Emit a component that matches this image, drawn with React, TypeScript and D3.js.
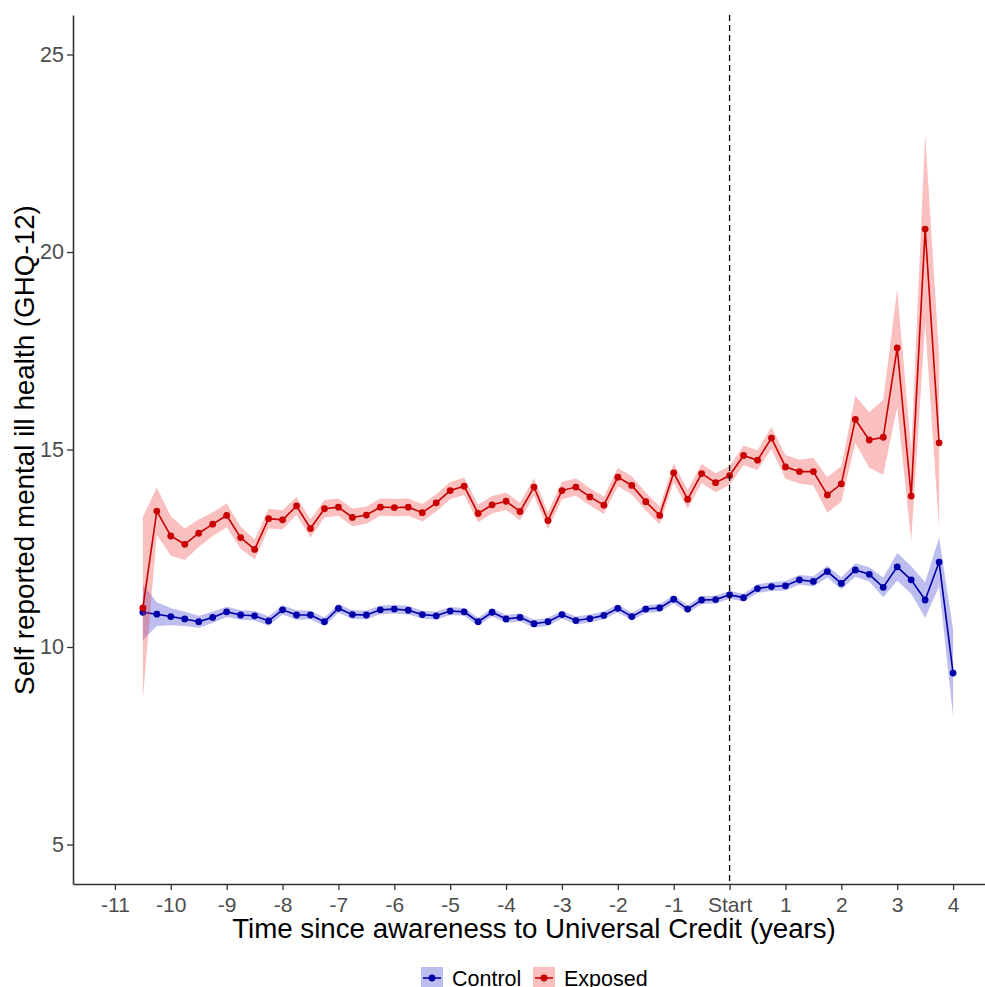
import React, { useEffect, useRef } from "react";
import * as d3 from "d3";

// quarter-year points, years relative to awareness of Universal Credit
const quarters = [
  -10.5, -10.25, -10, -9.75, -9.5, -9.25, -9, -8.75, -8.5, -8.25,
  -8, -7.75, -7.5, -7.25, -7, -6.75, -6.5, -6.25, -6, -5.75,
  -5.5, -5.25, -5, -4.75, -4.5, -4.25, -4, -3.75, -3.5, -3.25,
  -3, -2.75, -2.5, -2.25, -2, -1.75, -1.5, -1.25, -1, -0.75,
  -0.5, -0.25, 0, 0.25, 0.5, 0.75, 1, 1.25, 1.5, 1.75,
  2, 2.25, 2.5, 2.75, 3, 3.25, 3.5, 3.75, 4,
];

const exposedMean = [
  10.99, 13.44, 12.81, 12.6, 12.88, 13.11, 13.33, 12.77, 12.47, 13.25,
  13.22, 13.57, 13.0, 13.5, 13.54, 13.28, 13.34, 13.54, 13.53, 13.54,
  13.4, 13.65, 13.96, 14.07, 13.38, 13.6, 13.69, 13.43, 14.05, 13.2,
  13.96, 14.05, 13.8, 13.59, 14.3, 14.09, 13.68, 13.33, 14.41, 13.74,
  14.39, 14.16, 14.34, 14.85, 14.73, 15.29, 14.56, 14.44, 14.44, 13.85,
  14.13, 15.76, 15.24, 15.31, 17.57, 13.82, 20.58, 15.17,
];
const exposedCI = [
  2.3, 0.6, 0.5, 0.4, 0.35, 0.3, 0.3, 0.28, 0.25, 0.25,
  0.24, 0.23, 0.23, 0.22, 0.22, 0.22, 0.22, 0.22, 0.22, 0.22,
  0.22, 0.22, 0.22, 0.22, 0.22, 0.22, 0.22, 0.22, 0.22, 0.22,
  0.22, 0.22, 0.22, 0.22, 0.23, 0.23, 0.23, 0.23, 0.24, 0.24,
  0.24, 0.24, 0.24, 0.25, 0.25, 0.28, 0.3, 0.3, 0.35, 0.45,
  0.45, 0.6, 0.7, 0.95, 1.5, 1.15, 2.4, 2.2,
];

const controlMean = [
  10.88, 10.83, 10.77, 10.71, 10.64, 10.75, 10.89, 10.81, 10.79, 10.66,
  10.94, 10.81, 10.81, 10.64, 10.98, 10.82, 10.81, 10.94, 10.96, 10.93,
  10.82, 10.79, 10.91, 10.89, 10.64, 10.88, 10.71, 10.75, 10.59, 10.64,
  10.82, 10.67, 10.72, 10.8, 10.98, 10.77, 10.96, 10.99, 11.21, 10.96,
  11.19, 11.2, 11.32, 11.25, 11.48, 11.53, 11.55, 11.7, 11.66, 11.91,
  11.61, 11.95, 11.84, 11.51, 12.03, 11.7, 11.19, 12.15, 9.34,
];
const controlCI = [
  0.7, 0.3, 0.22, 0.18, 0.15, 0.14, 0.13, 0.12, 0.12, 0.12,
  0.12, 0.12, 0.11, 0.11, 0.11, 0.11, 0.11, 0.11, 0.11, 0.11,
  0.1, 0.1, 0.1, 0.1, 0.1, 0.1, 0.1, 0.1, 0.1, 0.1,
  0.1, 0.1, 0.1, 0.1, 0.1, 0.1, 0.1, 0.1, 0.1, 0.1,
  0.1, 0.1, 0.1, 0.1, 0.11, 0.11, 0.12, 0.12, 0.13, 0.15,
  0.15, 0.17, 0.18, 0.25, 0.35, 0.35, 0.45, 0.62, 1.1,
];

const xTicks = [-11, -10, -9, -8, -7, -6, -5, -4, -3, -2, -1, 0, 1, 2, 3, 4];
const yTicks = [5, 10, 15, 20, 25];

const series = [
  { name: "Control", mean: controlMean, ci: controlCI, line: "#0000a8", fill: "#3333cc" },
  { name: "Exposed", mean: exposedMean, ci: exposedCI, line: "#c80000", fill: "#ee3c3c" },
];

const App = () => {
  const ref = useRef<SVGSVGElement | null>(null);

  useEffect(() => {
    const svg = d3.select(ref.current);
    svg.selectAll("*").remove();

    const x = d3.scaleLinear().domain([-11.75, 4.75]).range([73, 995]);
    const y = d3.scaleLinear().domain([4, 26]).range([884, 15]);
    const font = "'Liberation Sans', Arial, sans-serif";

    series.forEach((s) => {
      const rows = s.mean.map((m, i) => ({ t: quarters[i], m, lo: m - s.ci[i], hi: m + s.ci[i] }));

      svg
        .append("path")
        .attr(
          "d",
          d3
            .area<any>()
            .x((d) => x(d.t))
            .y0((d) => y(d.lo))
            .y1((d) => y(d.hi))(rows)
        )
        .attr("fill", s.fill)
        .attr("fill-opacity", 0.32);

      svg
        .append("path")
        .attr(
          "d",
          d3
            .line<any>()
            .x((d) => x(d.t))
            .y((d) => y(d.m))(rows)
        )
        .attr("fill", "none")
        .attr("stroke", s.line)
        .attr("stroke-width", 1.6);

      svg
        .append("g")
        .selectAll("circle")
        .data(rows)
        .join("circle")
        .attr("cx", (d) => x(d.t))
        .attr("cy", (d) => y(d.m))
        .attr("r", 3.4)
        .attr("fill", s.line);
    });

    // start of exposure
    svg
      .append("line")
      .attr("x1", x(0))
      .attr("x2", x(0))
      .attr("y1", 15)
      .attr("y2", 884)
      .attr("stroke", "#000")
      .attr("stroke-width", 1.3)
      .attr("stroke-dasharray", "6,4");

    // axes
    const xAxis = svg
      .append("g")
      .attr("transform", "translate(0,884)")
      .call(
        d3
          .axisBottom(x)
          .tickValues(xTicks)
          .tickSize(6)
          .tickSizeOuter(0)
          .tickFormat((d) => (d === 0 ? "Start" : String(d)))
      );
    xAxis.select(".domain").attr("stroke", "#333").attr("stroke-width", 1.6);
    xAxis.selectAll(".tick line").attr("stroke", "#333").attr("stroke-width", 1.3);
    xAxis
      .selectAll(".tick text")
      .attr("fill", "#4d4d4d")
      .attr("font-family", font)
      .attr("font-size", 21)
      .attr("dy", "0.95em")
      .attr("y", 8);

    const yAxis = svg
      .append("g")
      .attr("transform", "translate(73,0)")
      .call(d3.axisLeft(y).tickValues(yTicks).tickSize(6).tickSizeOuter(0));
    yAxis.select(".domain").attr("stroke", "#333").attr("stroke-width", 1.6);
    yAxis.selectAll(".tick line").attr("stroke", "#333").attr("stroke-width", 1.3);
    yAxis
      .selectAll(".tick text")
      .attr("fill", "#4d4d4d")
      .attr("font-family", font)
      .attr("font-size", 21.5)
      .attr("x", -9);

    svg
      .append("text")
      .attr("x", 534)
      .attr("y", 938)
      .attr("text-anchor", "middle")
      .attr("font-family", font)
      .attr("font-size", 27.7)
      .attr("fill", "#000")
      .text("Time since awareness to Universal Credit (years)");

    svg
      .append("text")
      .attr("transform", "rotate(-90)")
      .attr("x", -450)
      .attr("y", 34)
      .attr("text-anchor", "middle")
      .attr("font-family", font)
      .attr("font-size", 27.8)
      .attr("fill", "#000")
      .text("Self reported mental ill health (GHQ-12)");

    // legend
    const legend = svg.append("g").attr("transform", "translate(421,967)");
    const keyX = [0, 112];
    series.forEach((s, i) => {
      const g = legend.append("g").attr("transform", `translate(${keyX[i]},0)`);
      g.append("rect")
        .attr("width", 22)
        .attr("height", 22)
        .attr("fill", s.fill)
        .attr("fill-opacity", 0.32);
      g.append("line")
        .attr("x1", 2)
        .attr("x2", 20)
        .attr("y1", 11)
        .attr("y2", 11)
        .attr("stroke", s.line)
        .attr("stroke-width", 1.6);
      g.append("circle").attr("cx", 11).attr("cy", 11).attr("r", 3.4).attr("fill", s.line);
      g.append("text")
        .attr("x", 31)
        .attr("y", 18.5)
        .attr("font-family", font)
        .attr("font-size", 21.5)
        .attr("fill", "#000")
        .text(s.name);
    });
  }, []);

  return <svg ref={ref} width={985} height={987} style={{ display: "block", position: "absolute", left: 0, top: 0 }} />;
};

export default App;
